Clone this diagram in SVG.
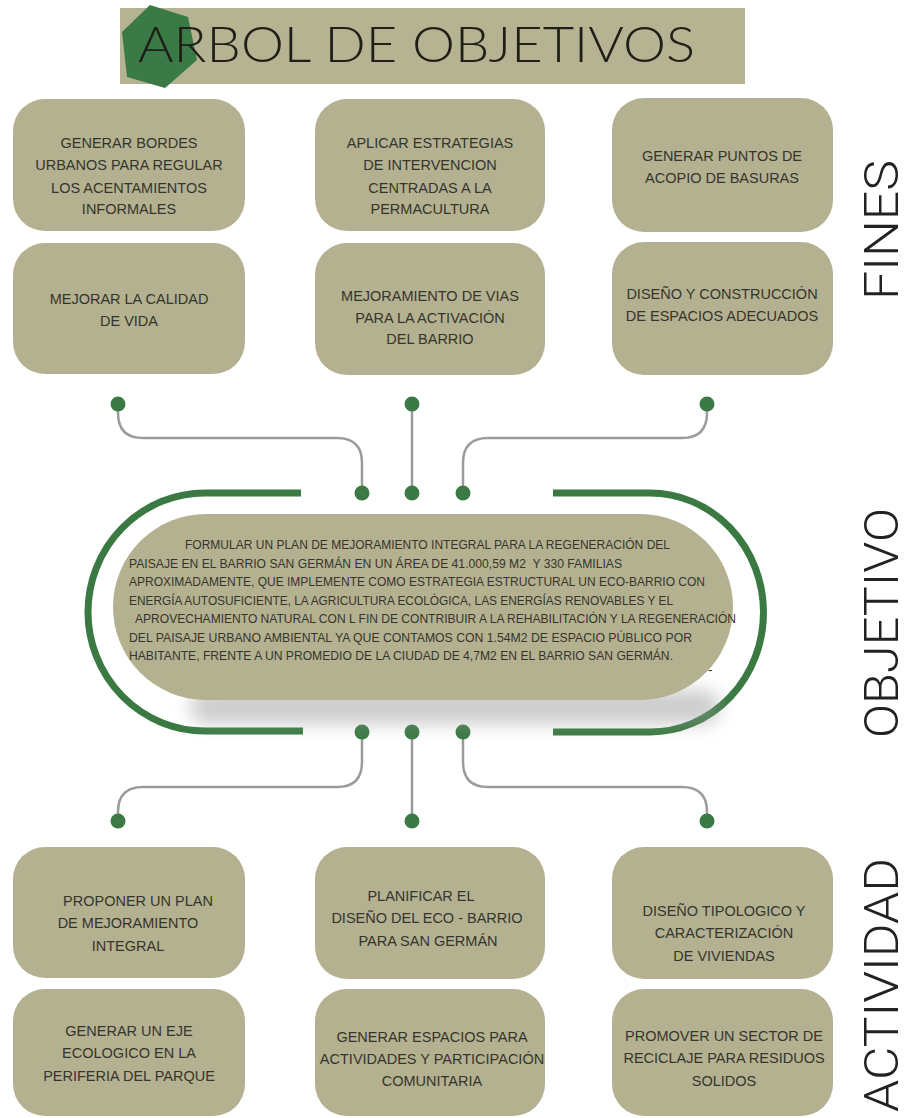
<svg xmlns="http://www.w3.org/2000/svg" width="909" height="1118" viewBox="0 0 909 1118">
<style>
.box{fill:#b4b190}
.bt{font-family:"Liberation Sans",Arial,sans-serif;font-size:14.5px;fill:#35352d;text-anchor:middle}
.pt{font-family:"Liberation Sans",Arial,sans-serif;font-size:13.5px;fill:#35352d}
.side{font-family:Roboto,"Liberation Sans",sans-serif;font-weight:300;font-size:48px;fill:#222;text-anchor:middle}
.wire{fill:none;stroke:#9b9b9b;stroke-width:2.5}
.dot{fill:#3b7a45}
.arc{fill:none;stroke:#3a7a42;stroke-width:7}
</style>
<defs>
<filter id="sh" x="-20%" y="-100%" width="140%" height="300%"><feGaussianBlur stdDeviation="9"/></filter>
</defs>
<rect width="909" height="1118" fill="#ffffff"/>

<g id="title">
<rect x="120" y="8" width="625" height="76" fill="#b6b392"/>
<polygon points="150,5 188,17 197,60 165,88 127,77 122,32" fill="#3a7a47"/>
<text x="138" y="62" font-family="Lato,Inter,'Liberation Sans',sans-serif" font-weight="300" font-size="50" fill="#1f1f17" textLength="557" lengthAdjust="spacingAndGlyphs">ARBOL DE OBJETIVOS</text>
</g>

<g id="labels">
<text class="side" transform="translate(898,230) rotate(-90)" textLength="140" lengthAdjust="spacingAndGlyphs">FINES</text>
<text class="side" transform="translate(898,623) rotate(-90)" textLength="230" lengthAdjust="spacingAndGlyphs">OBJETIVO</text>
<text class="side" transform="translate(898,985) rotate(-90)" textLength="254" lengthAdjust="spacingAndGlyphs">ACTIVIDAD</text>
</g>

<g id="fin1"><rect class="box" x="13" y="99" width="232" height="132" rx="32"/>
<text class="bt" x="129" y="148">GENERAR BORDES</text><text class="bt" x="129" y="170">URBANOS PARA REGULAR</text><text class="bt" x="129" y="193">LOS ACENTAMIENTOS</text><text class="bt" x="129" y="214">INFORMALES</text></g>
<g id="fin2"><rect class="box" x="315" y="99" width="230" height="132" rx="32"/>
<text class="bt" x="430" y="148">APLICAR ESTRATEGIAS</text><text class="bt" x="430" y="170">DE INTERVENCION</text><text class="bt" x="430" y="193">CENTRADAS A LA</text><text class="bt" x="430" y="214">PERMACULTURA</text></g>
<g id="fin3"><rect class="box" x="612" y="98" width="221" height="134" rx="32"/>
<text class="bt" x="722" y="161">GENERAR PUNTOS DE</text><text class="bt" x="722" y="183">ACOPIO DE BASURAS</text></g>
<g id="fin4"><rect class="box" x="13" y="243" width="232" height="131" rx="32"/>
<text class="bt" x="129" y="304">MEJORAR LA CALIDAD</text><text class="bt" x="129" y="326">DE VIDA</text></g>
<g id="fin5"><rect class="box" x="315" y="243" width="230" height="132" rx="32"/>
<text class="bt" x="430" y="301">MEJORAMIENTO DE VIAS</text><text class="bt" x="430" y="323">PARA LA ACTIVACIÓN</text><text class="bt" x="430" y="344">DEL BARRIO</text></g>
<g id="fin6"><rect class="box" x="612" y="242" width="221" height="133" rx="32"/>
<text class="bt" x="722" y="299">DISEÑO Y CONSTRUCCIÓN</text><text class="bt" x="722" y="321">DE ESPACIOS ADECUADOS</text></g>

<g id="connectors">
<path class="wire" d="M118,404 V413 Q118,438 143,438 H337 Q362,438 362,463 V493"/>
<path class="wire" d="M412,404 V493"/>
<path class="wire" d="M707,404 V413 Q707,438 682,438 H488 Q463,438 463,463 V493"/>
<path class="wire" d="M362,732 V762 Q362,787 337,787 H143 Q118,787 118,812 V821"/>
<path class="wire" d="M412,732 V821"/>
<path class="wire" d="M463,732 V762 Q463,787 488,787 H682 Q707,787 707,812 V821"/>
<circle class="dot" cx="118" cy="404" r="7.5"/><circle class="dot" cx="412" cy="404" r="7.5"/><circle class="dot" cx="707" cy="404" r="7.5"/>
<circle class="dot" cx="362" cy="493" r="7.5"/><circle class="dot" cx="412" cy="493" r="7.5"/><circle class="dot" cx="463" cy="493" r="7.5"/>
<circle class="dot" cx="362" cy="732" r="7.5"/><circle class="dot" cx="412" cy="732" r="7.5"/><circle class="dot" cx="463" cy="732" r="7.5"/>
<circle class="dot" cx="118" cy="821" r="7.5"/><circle class="dot" cx="412" cy="821" r="7.5"/><circle class="dot" cx="707" cy="821" r="7.5"/>
<path class="arc" d="M301,493 H205 A117,119 0 0 0 205,731 H303"/>
<path class="arc" d="M553,493 H650 A113,119 0 0 1 650,732 H553"/>
</g>

<g id="objetivo">
<rect x="190" y="690" width="530" height="34" rx="17" fill="#9a9a9a" opacity="0.5" filter="url(#sh)"/>
<rect class="box" x="113" y="514" width="620" height="186" rx="93"/>
<text class="pt" x="185" y="549" textLength="485" lengthAdjust="spacingAndGlyphs">FORMULAR UN PLAN DE MEJORAMIENTO INTEGRAL PARA LA REGENERACIÓN DEL</text>
<text class="pt" x="129" y="567.5" textLength="493" lengthAdjust="spacingAndGlyphs">PAISAJE EN EL BARRIO SAN GERMÁN EN UN ÁREA DE 41.000,59 M2&#160; Y 330 FAMILIAS</text>
<text class="pt" x="129" y="586" textLength="576" lengthAdjust="spacingAndGlyphs">APROXIMADAMENTE, QUE IMPLEMENTE COMO ESTRATEGIA ESTRUCTURAL UN ECO-BARRIO CON</text>
<text class="pt" x="129" y="604.5" textLength="544" lengthAdjust="spacingAndGlyphs">ENERGÍA AUTOSUFICIENTE, LA AGRICULTURA ECOLÓGICA, LAS ENERGÍAS RENOVABLES Y EL</text>
<text class="pt" x="135" y="623" textLength="601" lengthAdjust="spacingAndGlyphs">APROVECHAMIENTO NATURAL CON L FIN DE CONTRIBUIR A LA REHABILITACIÓN Y LA REGENERACIÓN</text>
<text class="pt" x="129" y="641.5" textLength="563" lengthAdjust="spacingAndGlyphs">DEL PAISAJE URBANO AMBIENTAL YA QUE CONTAMOS CON 1.54M2 DE ESPACIO PÚBLICO POR</text>
<text class="pt" x="129" y="660" textLength="544" lengthAdjust="spacingAndGlyphs">HABITANTE, FRENTE A UN PROMEDIO DE LA CIUDAD DE 4,7M2 EN EL BARRIO SAN GERMÁN.</text>
<text class="pt" x="708" y="674" font-size="10">-</text>
</g>

<g id="act1"><rect class="box" x="13" y="847" width="232" height="131" rx="32"/>
<text class="bt" x="138" y="906">PROPONER UN PLAN</text><text class="bt" x="128" y="928">DE MEJORAMIENTO</text><text class="bt" x="128" y="951">INTEGRAL</text></g>
<g id="act2"><rect class="box" x="315" y="847" width="230" height="132" rx="32"/>
<text class="bt" x="421" y="901">PLANIFICAR EL</text><text class="bt" x="427" y="923">DISEÑO DEL ECO - BARRIO</text><text class="bt" x="428" y="946">PARA SAN GERMÁN</text></g>
<g id="act3"><rect class="box" x="612" y="847" width="221" height="132" rx="32"/>
<text class="bt" x="724" y="916">DISEÑO TIPOLOGICO Y</text><text class="bt" x="724" y="938">CARACTERIZACIÓN</text><text class="bt" x="724" y="961">DE VIVIENDAS</text></g>
<g id="act4"><rect class="box" x="13" y="989" width="232" height="127" rx="32"/>
<text class="bt" x="129" y="1036">GENERAR UN EJE</text><text class="bt" x="129" y="1058">ECOLOGICO EN LA</text><text class="bt" x="129" y="1081">PERIFERIA DEL PARQUE</text></g>
<g id="act5"><rect class="box" x="315" y="989" width="230" height="127" rx="32"/>
<text class="bt" x="432" y="1042">GENERAR ESPACIOS PARA</text><text class="bt" x="432" y="1064">ACTIVIDADES Y PARTICIPACIÓN</text><text class="bt" x="432" y="1086">COMUNITARIA</text></g>
<g id="act6"><rect class="box" x="612" y="989" width="221" height="127" rx="32"/>
<text class="bt" x="724" y="1041">PROMOVER UN SECTOR DE</text><text class="bt" x="724" y="1063">RECICLAJE PARA RESIDUOS</text><text class="bt" x="724" y="1086">SOLIDOS</text></g>
</svg>
